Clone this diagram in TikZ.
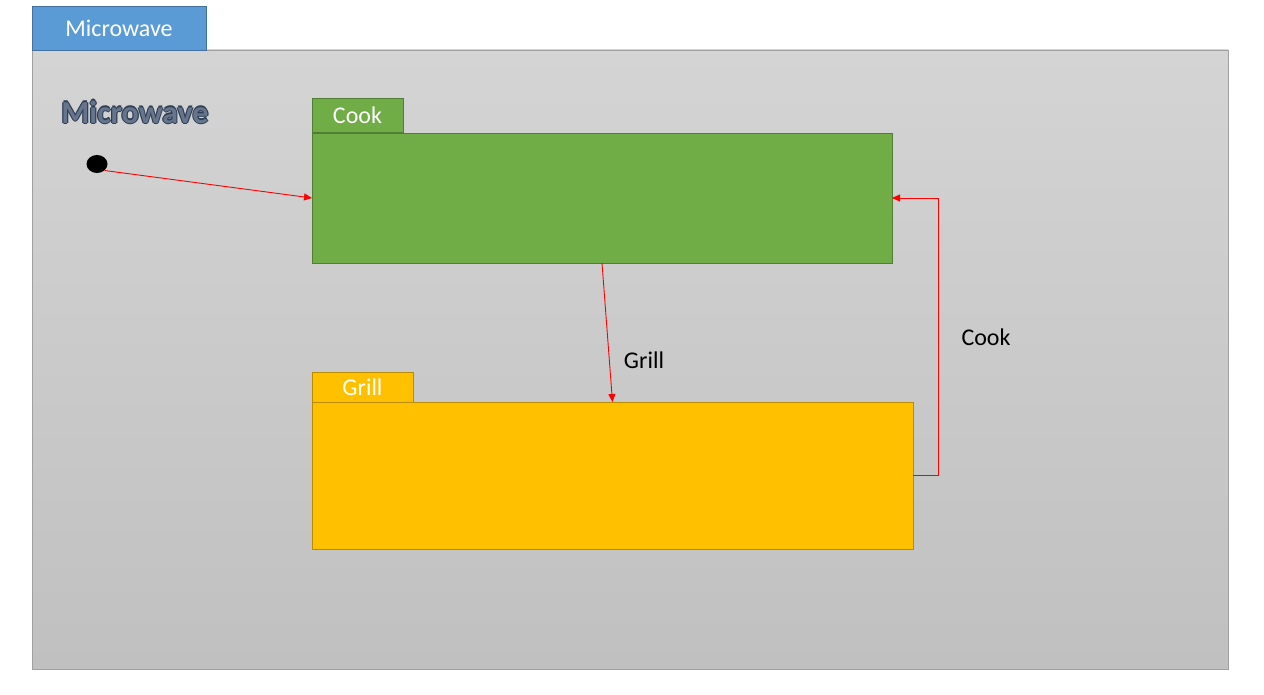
\documentclass[tikz,border=0pt]{standalone}
\usepackage{fontspec}
\setmainfont{Carlito}
\usetikzlibrary{arrows.meta,shapes.geometric}
\definecolor{tabblue}{HTML}{5B9BD5}
\definecolor{tabblueb}{HTML}{41719C}
\definecolor{cookg}{HTML}{70AD47}
\definecolor{cookgb}{HTML}{507E32}
\definecolor{grilly}{HTML}{FFC000}
\definecolor{grillyb}{HTML}{BC8C00}
\definecolor{frtop}{HTML}{D4D4D4}
\definecolor{frbot}{HTML}{C0C0C0}
\definecolor{frb}{HTML}{A0A0A0}
\definecolor{wordart}{HTML}{2F3F56}
\definecolor{wordartin}{HTML}{66758C}
\begin{document}
\begin{tikzpicture}[x=1pt,y=-1pt,
  rectnode/.style={rectangle, anchor=north west, inner sep=0pt, outer sep=0pt, line width=0.8pt},
  tabtext/.style={text=white, font=\fontsize{24}{28}\selectfont},
  lbl/.style={text=black, font=\fontsize{24}{28}\selectfont},
  wa/.style={text=wordart, font=\fontsize{32}{36}\selectfont\bfseries},
  conn/.style={draw=red, line width=0.9pt, -{Triangle[length=8pt,width=7pt]}}]
\useasboundingbox (0,0) rectangle (1264,695);
\fill[white] (0,0) rectangle (1264,695);
% frame
\node[rectnode, draw=frb, top color=frtop, bottom color=frbot, minimum width=1196pt, minimum height=619pt] (frame) at (32,50) {};
\node[rectnode, draw=tabblueb, fill=tabblue, minimum width=174pt, minimum height=44pt, tabtext] (mwtab) at (32,6) {Microwave};
% wordart title (outlined look)
\node[wa] (titlea) at (133.8,112) {Microwave};
\node[wa] (titleb) at (136.2,112) {Microwave};
\node[wa] (titlec) at (135,110.8) {Microwave};
\node[wa] (titled) at (135,113.2) {Microwave};
\node[wa, text=wordartin] (title) at (135,112) {Microwave};
% start
\node[ellipse, fill=black, minimum width=21pt, minimum height=18pt, inner sep=0pt] (start) at (97,164) {};
% cook state
\node[rectnode, draw=cookgb, fill=cookg, minimum width=91pt, minimum height=34pt, tabtext] (cooktab) at (312,98) {Cook};
\node[rectnode, draw=cookgb, fill=cookg, minimum width=580pt, minimum height=130pt] (cookbox) at (312,133) {};
% grill state
\node[rectnode, draw=grillyb, fill=grilly, minimum width=101pt, minimum height=30pt, tabtext] (grilltab) at (312,372) {Grill};
\node[rectnode, draw=grillyb, fill=grilly, minimum width=601pt, minimum height=147pt] (grillbox) at (312,402) {};
% connectors
\draw[conn] (start.south east) -- (cookbox.west);
\draw[conn] (cookbox.south) -- (grillbox.north);
\draw[conn] (grillbox.east) -- ++(25,0) |- (cookbox.east);
\node[lbl] (glabel) at (644,360) {Grill};
\node[lbl] (clabel) at (986,337) {Cook};
\end{tikzpicture}
\end{document}
